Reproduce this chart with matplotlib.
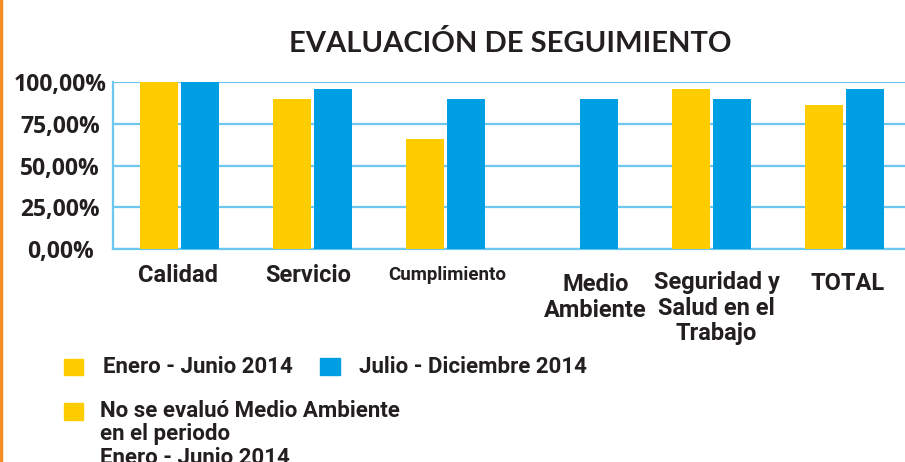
import numpy as np
import matplotlib
matplotlib.use("Agg")
from matplotlib import pyplot as plt
from matplotlib.patches import Rectangle
from matplotlib.lines import Line2D
from matplotlib.transforms import ScaledTranslation

categorias = ['Calidad', 'Servicio', 'Cumplimiento', 'Medio\nAmbiente',
              'Seguridad y\nSalud en el\nTrabajo', 'TOTAL']
enero_junio = [100, 90, 66, np.nan, 96, 86]
julio_diciembre = [100, 96, 90, 90, 90, 96]
y_ticks = [0, 25, 50, 75, 100]
y_labels = ['0,00%', '25,00%', '50,00%', '75,00%', '100,00%']
leyenda = ['Enero - Junio 2014', 'Julio - Diciembre 2014']
nota = 'No se evaluó Medio Ambiente\nen el periodo\nEnero - Junio 2014'

AMARILLO = '#FFCC00'
AZUL = '#009FE3'
GRID = '#6DC8EF'
TEXTO = '#231F20'

W, H = 905, 462
fig = plt.figure(figsize=(W / 100, H / 100), dpi=100)


def fx(px):
    return px / W


def fy(py):
    return 1 - py / H


# area de los graficos
ax = fig.add_axes([fx(113), fy(249), fx(798), (249 - 82) / H])
x = np.arange(len(categorias))
ancho = 0.29
ax.bar(x - 0.155, enero_junio, ancho, color=AMARILLO, zorder=3)
ax.bar(x + 0.155, julio_diciembre, ancho, color=AZUL, zorder=3)
ax.set_xlim(-0.5, len(categorias) - 0.5)
ax.set_ylim(0, 100)

ax.set_yticks(y_ticks)
ax.set_yticklabels(y_labels, family='Open Sans', fontweight='bold',
                   fontsize=16.5, color=TEXTO, ha='center', va='center_baseline')
ax.tick_params(axis='y', length=0, pad=38)
ax.set_xticks([])
ax.grid(axis='y', color=GRID, lw=1.6, zorder=0)
for s in ['top', 'right']:
    ax.spines[s].set_visible(False)
for s in ['left', 'bottom']:
    ax.spines[s].set_color(GRID)
    ax.spines[s].set_linewidth(1.6)

# etiquetas de categorias (ajustes a mano como en la imagen)
ajustes = {  # dx px, top px, tamaño
    0: (-2, 264, 17),
    1: (-4, 264, 17),
    2: (2, 266, 13.5),
    3: (17, 273, 17),
    4: (5, 271, 17),
    5: (3, 272, 17),
}
for i, cat in enumerate(categorias):
    dx, top, fs = ajustes[i]
    tr = ax.get_xaxis_transform() + ScaledTranslation(dx / 100, -(top - 249) / 100, fig.dpi_scale_trans)
    ax.text(i, 0, cat, transform=tr, ha='center', va='top', multialignment='center',
            family='Roboto', fontweight='bold', fontsize=fs, color=TEXTO,
            linespacing=1.15)

# titulo
fig.text(fx(510), fy(52), 'EVALUACIÓN DE SEGUIMIENTO', ha='center', va='baseline',
         family='Lato', fontweight='bold', fontsize=21, color=TEXTO)

# leyenda
fig.add_artist(Rectangle((fx(64), fy(375)), fx(19), 16 / H, color=AMARILLO, transform=fig.transFigure))
fig.text(fx(103), fy(373), leyenda[0], va='baseline', family='Roboto', fontweight='bold',
         fontsize=16, color=TEXTO)
fig.add_artist(Rectangle((fx(320), fy(375)), fx(20), 17 / H, color=AZUL, transform=fig.transFigure))
fig.text(fx(359), fy(373), leyenda[1], va='baseline', family='Roboto', fontweight='bold',
         fontsize=16, color=TEXTO)
fig.add_artist(Rectangle((fx(64), fy(420)), fx(19), 17 / H, color=AMARILLO, transform=fig.transFigure))
fig.text(fx(100), fy(400), nota, va='top', family='Roboto', fontweight='bold',
         fontsize=16, color=TEXTO, linespacing=1.08)

# borde naranja a la izquierda
fig.add_artist(Line2D([fx(1), fx(1)], [0, 1], color='#F28E25', lw=2.5, transform=fig.transFigure))

plt.savefig('out.png', dpi=100)
